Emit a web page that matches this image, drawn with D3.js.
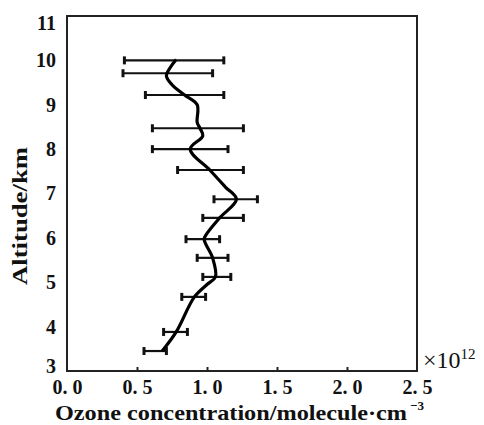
<!DOCTYPE html>
<html>
<head>
<meta charset="utf-8">
<script src="https://cdn.jsdelivr.net/npm/d3@7"></script>
<style>
  body { margin: 0; background: #fff; }
  svg { display: block; }
  text { font-family: "Liberation Serif", "DejaVu Serif", serif; fill: #111; }
</style>
</head>
<body>
<svg id="chart" width="484" height="425"></svg>
<script>
// error bars: altitude (km), centre and range of ozone concentration (x10^12 molecule/cm3)
const barAlt  = [10.0, 9.71, 9.22, 8.47, 8.0, 7.53, 6.87, 6.45, 5.97, 5.55, 5.12, 4.67, 3.88, 3.45];
const barLow  = [0.41, 0.40, 0.56, 0.61, 0.61, 0.79, 1.05, 0.97, 0.85, 0.93, 0.97, 0.82, 0.69, 0.55];
const barHigh = [1.12, 1.04, 1.12, 1.26, 1.15, 1.26, 1.36, 1.26, 1.09, 1.15, 1.17, 0.99, 0.86, 0.71];

// mean profile line
const profAlt  = [10.02, 9.85, 9.65, 9.45, 9.22, 9.0, 8.6, 8.47, 8.3, 8.0, 7.53, 7.15, 6.87, 6.45, 6.1, 5.97, 5.55, 5.12, 4.95, 4.67, 3.88, 3.45];
const profConc = [0.78, 0.74, 0.71, 0.75, 0.84, 0.93, 0.93, 0.95, 0.97, 0.88, 1.02, 1.13, 1.21, 1.09, 1.00, 0.98, 1.04, 1.06, 1.00, 0.91, 0.78, 0.68];

const xTicks = [0, 0.5, 1.0, 1.5, 2.0, 2.5];
const yTicks = [3, 4, 5, 6, 7, 8, 9, 10, 11];

const svg = d3.select("#chart");
const mLeft = 67, mRight = 417, mTop = 16, mBottom = 371;

const x = d3.scaleLinear().domain([0, 2.5]).range([mLeft, mRight]);
const y = d3.scaleLinear().domain([3, 11]).range([mBottom, mTop]);

// x axis, ticks pointing inward
const xAxis = svg.append("g")
    .attr("transform", `translate(0,${mBottom})`)
    .call(d3.axisBottom(x).tickValues(xTicks).tickSizeInner(-4).tickSizeOuter(0).tickPadding(9)
        .tickFormat(d => d3.format(".1f")(d).replace(".", ". ")));
xAxis.select(".domain").remove();
xAxis.selectAll(".tick line").attr("stroke", "#222").attr("stroke-width", 2)
    .filter(d => d === 0 || d === 2.5).remove();
xAxis.selectAll("text").attr("font-size", 20).attr("font-weight", "bold")
    .style("font-family", "Liberation Serif").attr("fill", "#111");

// y axis, labels only (end labels nudged inside the frame like the original)
const yAxis = svg.append("g")
    .attr("transform", `translate(${mLeft},0)`)
    .call(d3.axisLeft(y).tickValues(yTicks).tickSize(0).tickPadding(11));
yAxis.select(".domain").remove();
yAxis.selectAll("text").attr("font-size", 20).attr("font-weight", "bold")
    .style("font-family", "Liberation Serif").attr("fill", "#111")
    .attr("y", d => d === 11 ? 7 : d === 3 ? -5 : 0);

// frame
svg.append("rect")
    .attr("x", mLeft).attr("y", mTop)
    .attr("width", mRight - mLeft).attr("height", mBottom - mTop)
    .attr("fill", "none").attr("stroke", "#222").attr("stroke-width", 2);

// error bars
const bars = svg.append("g").attr("stroke", "#111").attr("stroke-width", 2.2);
barAlt.forEach((a, i) => {
    bars.append("line")
        .attr("x1", x(barLow[i])).attr("x2", x(barHigh[i]))
        .attr("y1", y(a)).attr("y2", y(a));
    [barLow[i], barHigh[i]].forEach(v => {
        bars.append("line")
            .attr("x1", x(v)).attr("x2", x(v))
            .attr("y1", y(a) - 4).attr("y2", y(a) + 4)
            .attr("stroke-width", 3);
    });
});

// profile
const line = d3.line()
    .x((d, i) => x(profConc[i]))
    .y(d => y(d))
    .curve(d3.curveCatmullRom);
svg.append("path")
    .datum(profAlt)
    .attr("d", line)
    .attr("fill", "none")
    .attr("stroke", "#000")
    .attr("stroke-width", 3.2)
    .attr("stroke-linejoin", "round");

// multiplier
const mult = svg.append("text")
    .attr("x", 423).attr("y", 368)
    .attr("font-size", 24);
mult.append("tspan").text("×10");
mult.append("tspan").attr("font-size", 15).attr("dy", -9).text("12");

// axis titles
const xt = svg.append("text")
    .attr("x", 55).attr("y", 420)
    .attr("font-size", 21).attr("font-weight", "bold");
xt.append("tspan")
    .attr("textLength", 352).attr("lengthAdjust", "spacingAndGlyphs")
    .text("Ozone concentration/molecule·cm");
xt.append("tspan").attr("font-size", 13).attr("dx", 3).attr("dy", -10).text("−3");

svg.append("text")
    .attr("transform", "translate(27,216) rotate(-90)")
    .attr("text-anchor", "middle")
    .attr("font-size", 21).attr("font-weight", "bold")
    .attr("textLength", 138).attr("lengthAdjust", "spacingAndGlyphs")
    .text("Altitude/km");
</script>
</body>
</html>
